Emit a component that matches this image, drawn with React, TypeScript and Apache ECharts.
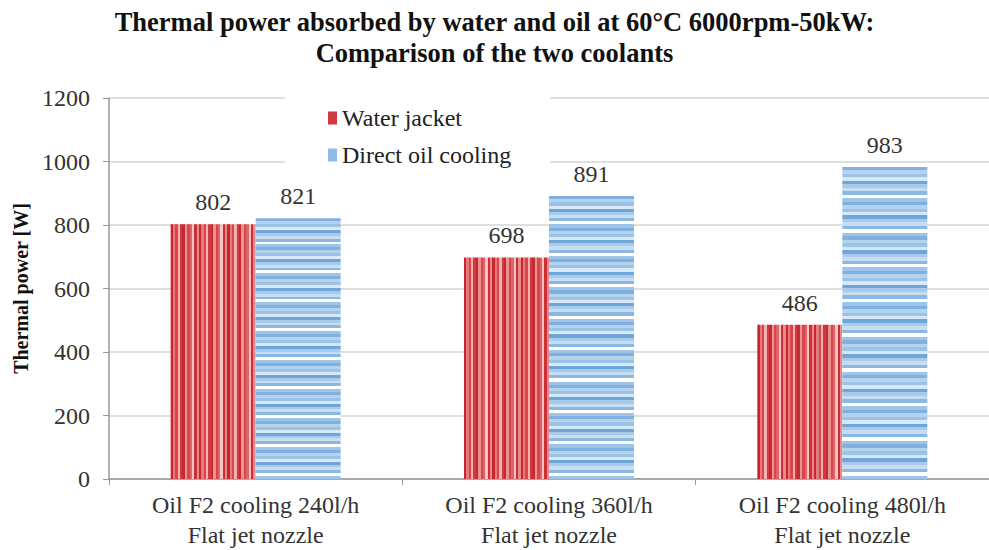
import React, { useEffect, useRef } from "react";
import * as echarts from "echarts";

const categories = [
  "Oil F2 cooling 240l/h\nFlat jet nozzle",
  "Oil F2 cooling 360l/h\nFlat jet nozzle",
  "Oil F2 cooling 480l/h\nFlat jet nozzle",
];
const waterJacket = [802, 698, 486];
const directOil = [821, 891, 983];
const yTicks = { min: 0, max: 1200, interval: 200 };

const redCycle = ["#c8262e", "#e47b7b", "#d9454b", "#f3b0b0", "#cf3a40", "#c42a31", "#eb9191", "#d5474c", "#e06466", "#f6c4c4", "#cc3037", "#e88a8a"];
const blueCycle = ["#7fb0df", "#b6d3ee", "#9bc2e7", "#d9e8f6", "#6fa6da", "#a8cbeb", "#c7ddf2", "#8ab8e3", "#ffffff", "#9ec4e8"];

function stripes(colors: string[], count: number, vertical: boolean) {
  const stops: { offset: number; color: string }[] = [];
  for (let i = 0; i < count; i++) {
    const c = colors[i % colors.length];
    stops.push({ offset: i / count, color: c });
    stops.push({ offset: (i + 1) / count, color: c });
  }
  return vertical
    ? new echarts.graphic.LinearGradient(0, 0, 1, 0, stops)
    : new echarts.graphic.LinearGradient(0, 0, 0, 1, stops);
}

const FONT = "Liberation Serif";

export default function App() {
  const ref = useRef<HTMLDivElement>(null);
  useEffect(() => {
    if (!ref.current) return;
    const chart = echarts.init(ref.current, undefined, { renderer: "svg" });
    const labelStyle = {
      show: true,
      position: "top" as const,
      distance: 10,
      fontFamily: FONT,
      fontSize: 24,
      color: "#333",
    };
    chart.setOption({
      animation: false,
      backgroundColor: "#fff",
      textStyle: { fontFamily: FONT },
      title: {
        text: "Thermal power absorbed by water and oil at 60°C 6000rpm-50kW:\nComparison of the two coolants",
        left: "center",
        top: 1,
        textStyle: {
          fontFamily: FONT,
          fontSize: 26.5,
          fontWeight: "bold",
          color: "#111",
          lineHeight: 31,
        },
      },
      legend: {
        orient: "vertical",
        left: 285,
        top: 96,
        padding: [10, 39, 13, 43],
        backgroundColor: "#fff",
        itemGap: 13,
        itemWidth: 9,
        itemHeight: 13,
        icon: "rect",
        textStyle: { fontFamily: FONT, fontSize: 24, color: "#222" },
        data: [
          { name: "Water jacket", itemStyle: { color: "#d0393f" } },
          { name: "Direct oil cooling", itemStyle: { color: "#8fbbe3" } },
        ],
      },
      grid: { left: 109, right: -3, top: 98, bottom: 71, containLabel: false },
      xAxis: {
        type: "category",
        data: categories,
        axisLine: { lineStyle: { color: "#999", width: 1.5 } },
        axisTick: { show: true, alignWithLabel: false, length: 6, lineStyle: { color: "#999" } },
        axisLabel: {
          fontFamily: FONT,
          fontSize: 24,
          color: "#333",
          lineHeight: 30,
          margin: 11,
        },
      },
      yAxis: {
        type: "value",
        min: yTicks.min,
        max: yTicks.max,
        interval: yTicks.interval,
        name: "Thermal power [W]",
        nameLocation: "middle",
        nameGap: 73,
        nameTextStyle: { fontFamily: FONT, fontSize: 20, fontWeight: "bold", color: "#111" },
        axisLine: { show: true, lineStyle: { color: "#999", width: 1.5 } },
        axisTick: { show: true, length: 6, lineStyle: { color: "#999" } },
        axisLabel: {
          fontFamily: FONT,
          fontSize: 24,
          color: "#333",
          margin: 19,
          formatter: (v: number) => String(v),
        },
        splitLine: { lineStyle: { color: "#d4d4d4", width: 1.5 } },
      },
      series: [
        {
          name: "Water jacket",
          type: "bar",
          data: waterJacket,
          barGap: "0%",
          barWidth: 85,
          itemStyle: { color: stripes(redCycle, 36, true) },
          label: labelStyle,
        },
        {
          name: "Direct oil cooling",
          type: "bar",
          data: directOil,
          barWidth: 85,
          itemStyle: { color: stripes(blueCycle, 90, false) },
          label: labelStyle,
        },
      ],
    });
    return () => chart.dispose();
  }, []);
  return <div ref={ref} style={{ width: 989, height: 550, position: "absolute", left: 0, top: 0 }} />;
}
